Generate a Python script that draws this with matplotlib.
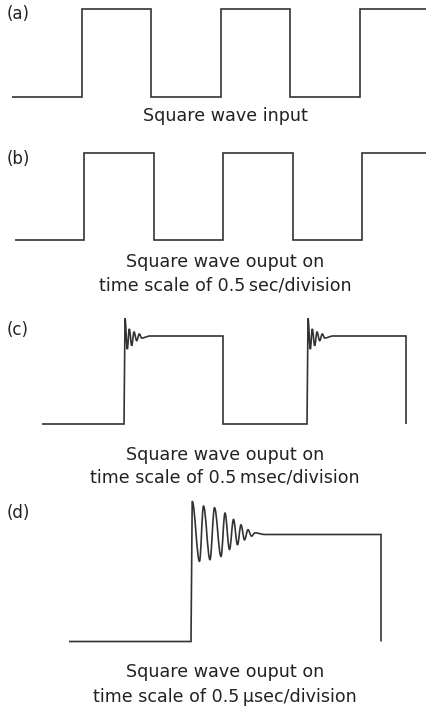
import matplotlib
matplotlib.use("Agg")
import matplotlib.pyplot as plt
from matplotlib.path import Path
from matplotlib.patches import PathPatch

# picture is 427 x 707 px, x positions below are in that scale
W, H = 427, 707

# edges of the steps and the level (0 = low, 1 = high) between them
a_edges = [12, 82, 151, 221, 290, 360, 427]
a_levels = [0, 1, 0, 1, 0, 1]

b_edges = [15, 84, 154, 223, 293, 362, 427]
b_levels = [0, 1, 0, 1, 0, 1]

c_edges = [42, 124, 223, 307, 406]
c_levels = [0, 1, 0, 1]
c_end = 0

d_edges = [69, 191, 381]
d_levels = [0, 1]
d_end = 0

# ringing after each rising edge: extrema (offset from edge, level)
c_ring_dx = [1.0, 3.3, 5.3, 7.7, 10.0, 12.7, 15.3, 17.7, 26.0]
c_ring_lv = [1.20, 0.85, 1.08, 0.89, 1.045, 0.947, 1.023, 0.977, 1.0]

d_ring_dx = [1.2, 8.5, 12.5, 19.0, 23.5, 30.0, 34.0, 38.5, 42.5, 46.5, 50.0, 53.5, 57.0, 60.5, 64.0, 74.0]
d_ring_lv = [1.31, 0.75, 1.265, 0.765, 1.25, 0.795, 1.20, 0.86, 1.14, 0.905, 1.09, 0.95, 1.045, 0.985, 1.015, 1.0]

captions = {
    "a": ["Square wave input"],
    "b": ["Square wave ouput on", "time scale of 0.5\u2009sec/division"],
    "c": ["Square wave ouput on", "time scale of 0.5\u2009msec/division"],
    "d": ["Square wave ouput on", "time scale of 0.5\u2009\u03bcsec/division"],
}

LINE = "#333333"
TEXT = "#222222"


def wave_path(edges, levels, end=None, ring_dx=None, ring_lv=None):
    verts = [(edges[0], levels[0])]
    codes = [Path.MOVETO]
    for i in range(1, len(edges)):
        x = edges[i]
        prev = levels[i - 1]
        verts.append((x, prev))
        codes.append(Path.LINETO)
        if i < len(levels):
            nxt = levels[i]
        elif end is not None:
            nxt = end
        else:
            break
        if nxt > prev and ring_dx is not None:
            px, py = x + ring_dx[0], ring_lv[0]
            verts.append((px, py))
            codes.append(Path.LINETO)
            for dx, lv in zip(ring_dx[1:], ring_lv[1:]):
                qx, qy = x + dx, lv
                k = 0.36 * (qx - px)
                verts += [(px + k, py), (qx - k, qy), (qx, qy)]
                codes += [Path.CURVE4] * 3
                px, py = qx, qy
        else:
            verts.append((x, nxt))
            codes.append(Path.LINETO)
    return Path(verts, codes)


fig = plt.figure(figsize=(W / 100, H / 100), dpi=100)
fig.patch.set_facecolor("white")

# (label, low px, high px, path data)
panels = [
    ("a", 97, 9, (a_edges, a_levels, None, None, None)),
    ("b", 240.5, 153, (b_edges, b_levels, None, None, None)),
    ("c", 424, 336, (c_edges, c_levels, c_end, c_ring_dx, c_ring_lv)),
    ("d", 641.5, 534.5, (d_edges, d_levels, d_end, d_ring_dx, d_ring_lv)),
]
label_y = {"a": 14, "b": 159, "c": 330, "d": 513}
caption_y = {"a": [116], "b": [262, 285], "c": [455, 478], "d": [672, 697]}

for name, low, high, args in panels:
    ax = fig.add_axes([0, 1 - low / H, 1, (low - high) / H])
    ax.set_xlim(0, W)
    ax.set_ylim(0, 1)
    ax.axis("off")
    patch = PathPatch(wave_path(*args), fill=False, edgecolor=LINE,
                      linewidth=1.2, capstyle="butt", joinstyle="miter",
                      clip_on=False)
    ax.add_patch(patch)

    fig.text(7 / W, 1 - label_y[name] / H, f"({name})", ha="left", va="center",
             fontsize=12, color=TEXT, family="DejaVu Sans")
    for line, y in zip(captions[name], caption_y[name]):
        fig.text(225 / W, 1 - y / H, line, ha="center", va="center",
                 fontsize=12.6, color=TEXT, family="DejaVu Sans")

fig.savefig("out.png", dpi=100, facecolor="white")
